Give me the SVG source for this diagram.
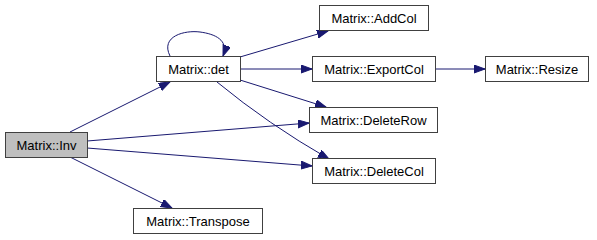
<svg xmlns="http://www.w3.org/2000/svg" width="597" height="240" viewBox="0 0 597 240">
  <style>
    .box { fill: #ffffff; stroke: #404040; stroke-width: 1; }
    .root { fill: #bfbfbf; }
    .lbl { font-family: "Liberation Sans", Arial, sans-serif; font-size: 13px; fill: #000000; text-anchor: middle; }
    .edge { fill: none; stroke: #191970; stroke-width: 1; marker-end: url(#arrow); }
  </style>
  <defs>
    <marker id="arrow" markerUnits="userSpaceOnUse" markerWidth="13" markerHeight="10" refX="11" refY="4" orient="auto">
      <path d="M0,0 L11,4 L0,8 z" fill="#191970" stroke="#191970" stroke-width="1"/>
    </marker>
  </defs>

  <rect width="597" height="240" fill="#ffffff"/>

  <g id="connectors">
    <path class="edge" d="M70,132 L170,82"/>
    <path class="edge" d="M87,141 L309,123"/>
    <path class="edge" d="M87,148 L312,166"/>
    <path class="edge" d="M70,157 L172,208"/>
    <path class="edge" d="M170,56 C160,36 185,30 200,32 C215,34 229,40 223,56"/>
    <path class="edge" d="M240,57 L328,31"/>
    <path class="edge" d="M240,69 L312,69"/>
    <path class="edge" d="M435,69 L485,69"/>
    <path class="edge" d="M240,80 L326,107"/>
    <path class="edge" d="M217,82 Q268,124 329,159"/>
  </g>

  <g id="node-inv">
    <rect class="box root" x="5.5" y="132.5" width="82" height="25"/>
    <text class="lbl" x="46.5" y="149.5">Matrix::Inv</text>
  </g>
  <g id="node-det">
    <rect class="box" x="156.5" y="56.5" width="84" height="25"/>
    <text class="lbl" x="198.5" y="73.5">Matrix::det</text>
  </g>
  <g id="node-transpose">
    <rect class="box" x="133.5" y="208.5" width="129" height="25"/>
    <text class="lbl" x="198" y="225.5">Matrix::Transpose</text>
  </g>
  <g id="node-addcol">
    <rect class="box" x="319.5" y="5.5" width="109" height="25"/>
    <text class="lbl" x="374" y="22.5">Matrix::AddCol</text>
  </g>
  <g id="node-exportcol">
    <rect class="box" x="312.5" y="56.5" width="123" height="25"/>
    <text class="lbl" x="374" y="73.5">Matrix::ExportCol</text>
  </g>
  <g id="node-resize">
    <rect class="box" x="485.5" y="56.5" width="103" height="25"/>
    <text class="lbl" x="537" y="73.5">Matrix::Resize</text>
  </g>
  <g id="node-deleterow">
    <rect class="box" x="309.5" y="107.5" width="128" height="25"/>
    <text class="lbl" x="373.5" y="124.5">Matrix::DeleteRow</text>
  </g>
  <g id="node-deletecol">
    <rect class="box" x="312.5" y="158.5" width="123" height="25"/>
    <text class="lbl" x="374" y="175.5">Matrix::DeleteCol</text>
  </g>
</svg>
